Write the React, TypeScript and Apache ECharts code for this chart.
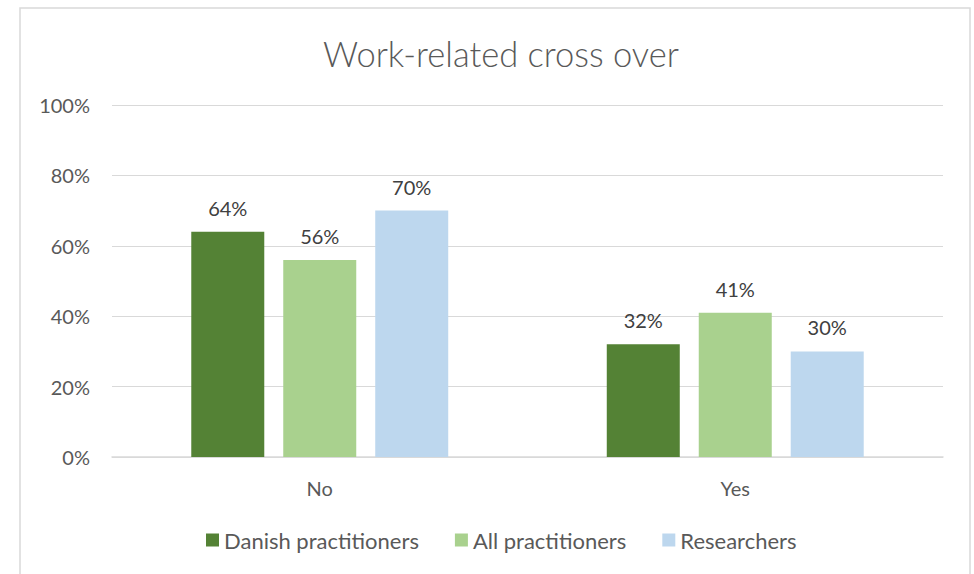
import React, { useEffect, useRef } from "react";
import * as echarts from "echarts";

const categories = ["No", "Yes"];
const seriesNames = ["Danish practitioners", "All practitioners", "Researchers"];
const danish = [64, 32];
const allPract = [56, 41];
const researchers = [70, 30];
const colors = ["#548235", "#A9D18E", "#BDD7EE"];

const FONT = "Lato, 'Open Sans', sans-serif";

export default function App() {
  const ref = useRef<HTMLDivElement>(null);
  useEffect(() => {
    if (!ref.current) return;
    const chart = echarts.init(ref.current, undefined, { renderer: "svg" });
    const values = [danish, allPract, researchers];
    chart.setOption({
      animation: false,
      backgroundColor: "#ffffff",
      textStyle: { fontFamily: FONT },
      title: {
        text: "Work-related cross over",
        left: 496,
        top: 31,
        textAlign: "center",
        textStyle: { fontFamily: FONT, fontSize: 34.5, fontWeight: 300, color: "#595959" },
      },
      graphic: [
        {
          type: "rect",
          shape: { x: 20, y: 8, width: 950, height: 600 },
          style: { fill: "none", stroke: "#d9d9d9", lineWidth: 1.5 },
          silent: true,
        },
      ],
      legend: {
        bottom: 18,
        left: 201,
        itemWidth: 13,
        itemHeight: 13,
        itemGap: 36,
        icon: "rect",
        textStyle: { fontFamily: FONT, fontSize: 22, color: "#595959" },
        data: seriesNames,
      },
      grid: { left: 112, right: 31, top: 105, bottom: 117 },
      xAxis: {
        type: "category",
        data: categories,
        axisTick: { show: false },
        axisLine: { lineStyle: { color: "#d9d9d9", width: 1.5 } },
        axisLabel: { fontFamily: FONT, fontSize: 20, color: "#595959", margin: 21 },
      },
      yAxis: {
        type: "value",
        min: 0,
        max: 100,
        interval: 20,
        axisLabel: { formatter: "{value}%", fontFamily: FONT, fontSize: 20, color: "#595959", margin: 22 },
        splitLine: { lineStyle: { color: "#d9d9d9", width: 1.2 } },
        axisLine: { show: false },
        axisTick: { show: false },
      },
      series: seriesNames.map((name, i) => ({
        name,
        type: "bar",
        data: values[i],
        barWidth: 73,
        barGap: "26%",
        itemStyle: { color: colors[i] },
        label: {
          show: true,
          position: "top",
          distance: 14,
          formatter: "{c}%",
          fontFamily: FONT,
          fontSize: 20,
          color: "#404040",
        },
      })),
    });
    return () => chart.dispose();
  }, []);
  return (
    <div
      ref={ref}
      style={{ position: "fixed", left: 0, top: 0, width: 974, height: 574 }}
    />
  );
}
